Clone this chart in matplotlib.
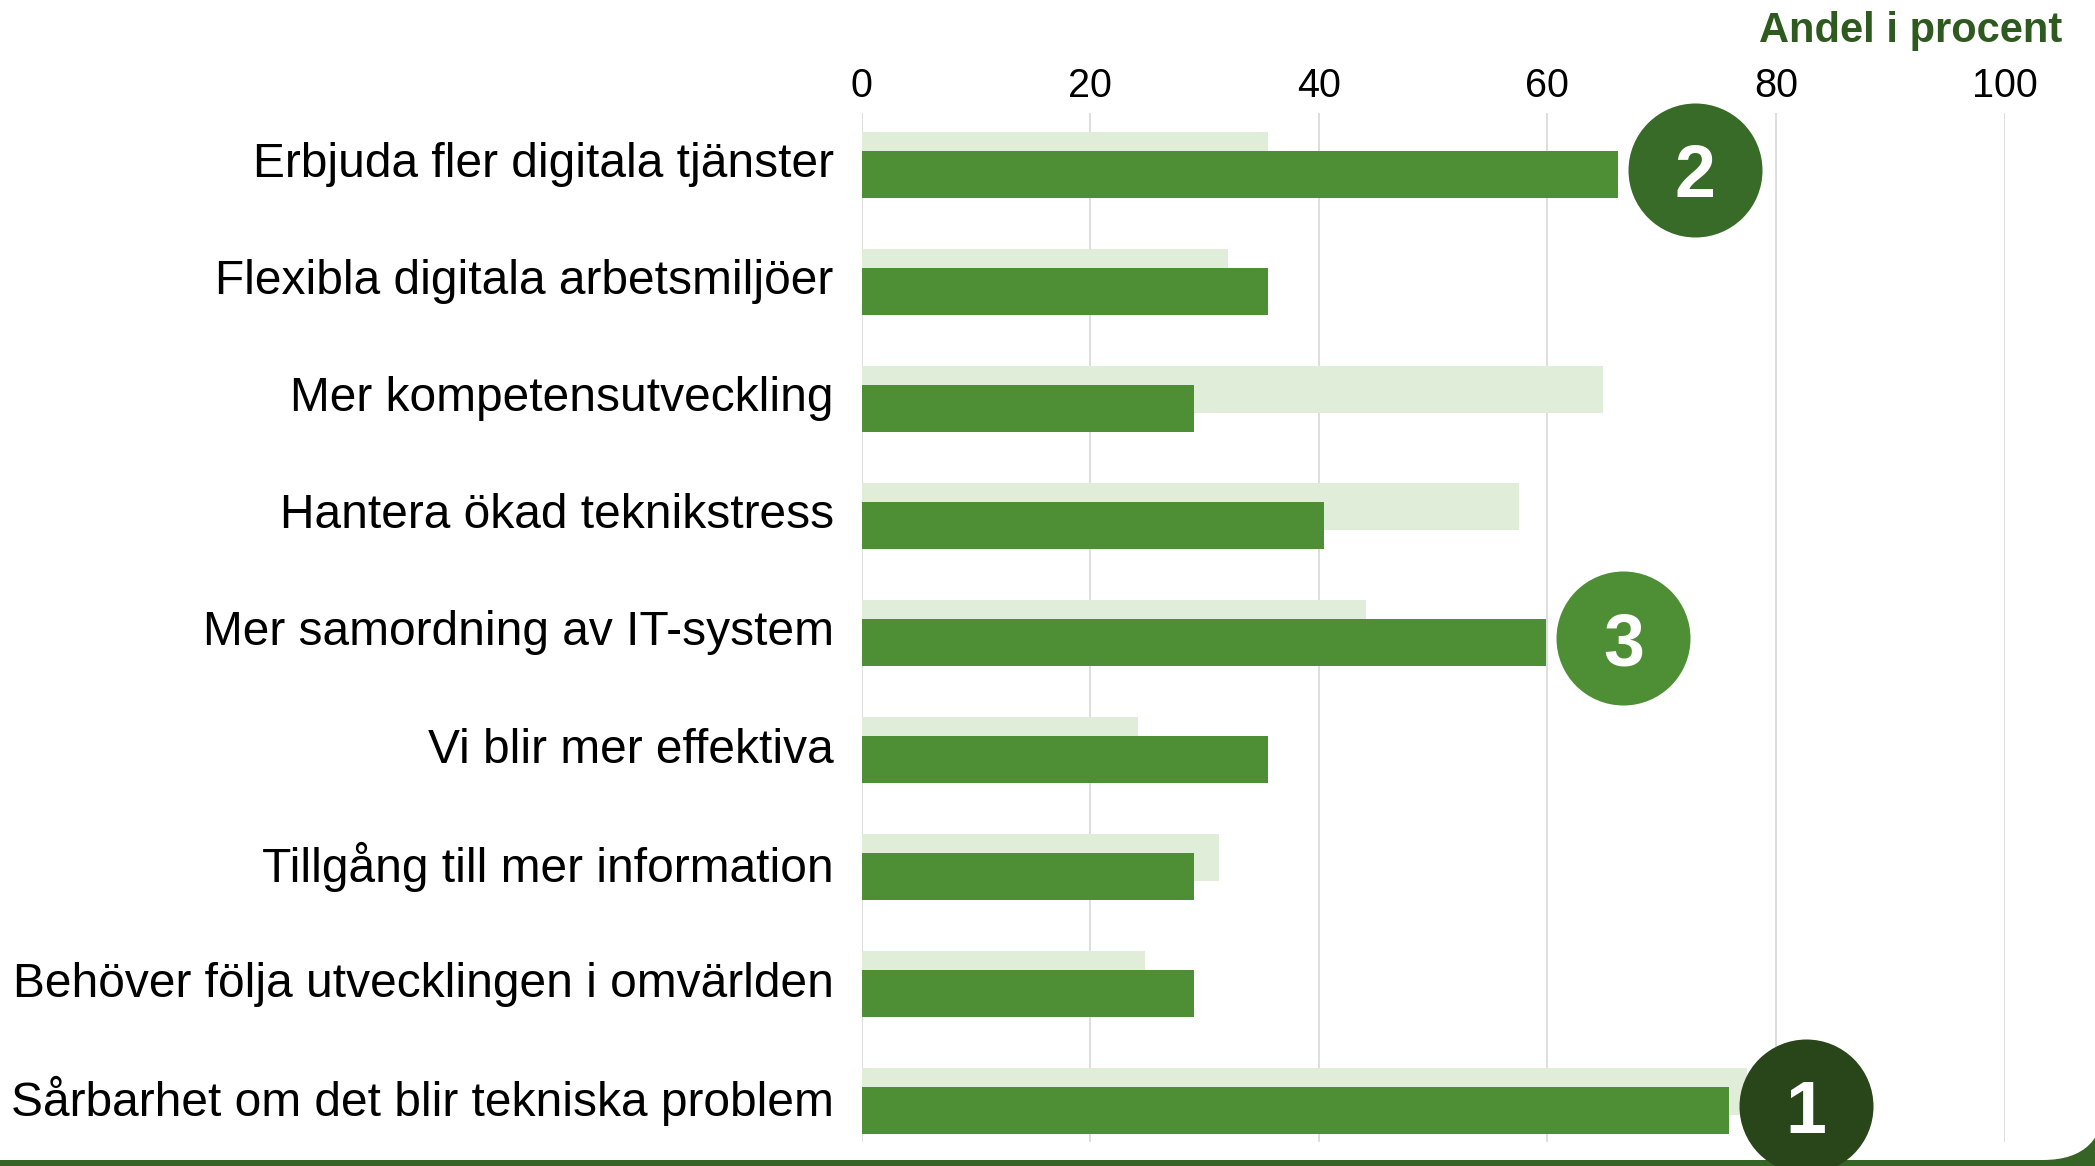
import matplotlib
matplotlib.use("Agg")
import matplotlib.pyplot as plt
from matplotlib.patches import FancyBboxPatch
from matplotlib.transforms import ScaledTranslation
import numpy as np

categories = [
    "Erbjuda fler digitala tjänster",
    "Flexibla digitala arbetsmiljöer",
    "Mer kompetensutveckling",
    "Hantera ökad teknikstress",
    "Mer samordning av IT-system",
    "Vi blir mer effektiva",
    "Tillgång till mer information",
    "Behöver följa utvecklingen i omvärlden",
    "Sårbarhet om det blir tekniska problem",
]
light_values = [35.6, 32.1, 64.9, 57.5, 44.1, 24.2, 31.3, 24.8, 77.5]
dark_values = [66.2, 35.6, 29.1, 40.5, 59.9, 35.6, 29.1, 29.1, 75.9]
xticks = [0, 20, 40, 60, 80, 100]
axis_title = "Andel i procent"

plt.rcParams['font.family'] = ['Liberation Sans', 'DejaVu Sans']

W, H = 2095, 1166
fig = plt.figure(figsize=(W / 100, H / 100), dpi=100)
fig.patch.set_facecolor("#356426")

# white rounded panel over green background
panel = FancyBboxPatch((-200, 6), W + 10 + 200, H + 300,
                       boxstyle="round,pad=0,rounding_size=62",
                       transform=None, facecolor="white", edgecolor="none",
                       zorder=-10)
fig.patches.append(panel)

ax_top_px, ax_bot_px = 113, 1142
ax = fig.add_axes([861.5 / W, (H - ax_bot_px) / H,
                   (2004.5 - 861.5) / W, (ax_bot_px - ax_top_px) / H])
ax.set_facecolor("none")
ax.set_zorder(1)

y = np.arange(len(categories))
h = 0.4
off = 0.0815
ax.barh(y - off, light_values, height=h, color="#e0edd8", zorder=2)
ax.barh(y + off, dark_values, height=h, color="#4e8f35", zorder=3)

ax.set_xlim(0, 100)
ax.set_ylim(8.35, -0.444)
ax.set_xticks(xticks)
ax.set_xticklabels([str(t) for t in xticks])
ax.xaxis.tick_top()
ax.set_yticks(y)
ax.set_yticklabels(categories)
ax.tick_params(axis='x', length=0, pad=5.5, labelsize=28.5, labelcolor="black")
ax.tick_params(axis='y', length=0, pad=20, labelsize=34.5, labelcolor="black")
ax.grid(axis='x', color="#d4d4d4", linewidth=1.1, zorder=1)
ax.set_axisbelow(True)
for s in ax.spines.values():
    s.set_visible(False)

shift = ScaledTranslation(0, 5 / 100, fig.dpi_scale_trans)
for lbl in ax.get_yticklabels():
    lbl.set_transform(lbl.get_transform() + shift)

# rank circles for top three
order = np.argsort(dark_values)[::-1][:3]
rank_colors = ["#28461a", "#386b28", "#4e8f35"]
for rank, idx in enumerate(order):
    cx = dark_values[idx] + 6.75
    cy = idx + 0.045
    ax.scatter([cx], [cy], s=9310, color=rank_colors[rank], zorder=5,
               clip_on=False, linewidths=0)
    ax.text(cx, cy, str(rank + 1), color="white", fontsize=53,
            fontweight="bold", ha="center", va="center_baseline", zorder=6,
            clip_on=False)

fig.text(2062 / W, 1 - 41.7 / H, axis_title, ha="right", va="baseline",
         fontsize=30, fontweight="bold", color="#2f5a1f")

fig.savefig("out.png", dpi=100, facecolor=fig.get_facecolor())
